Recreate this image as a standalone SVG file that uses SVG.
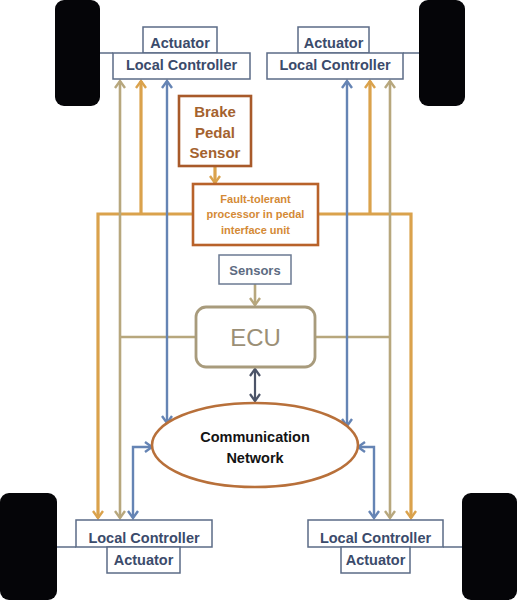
<svg xmlns="http://www.w3.org/2000/svg" width="517" height="600" viewBox="0 0 517 600">
<style>
.wheel{fill:#050508}
.box{fill:#fff;stroke:#5b6b86;stroke-width:1.5}
.lbl{font-family:"Liberation Sans",Arial,sans-serif;font-weight:bold;font-size:14.5px;fill:#3b4b6b;text-anchor:middle}
.axle{stroke:#5b6b86;stroke-width:1.5;fill:none}
.or{stroke:#daa24c;stroke-width:3.2;fill:none}
.kh{stroke:#b7a77d;stroke-width:2.6;fill:none}
.bl{stroke:#6584b4;stroke-width:2.4;fill:none}
.dk{stroke:#4c5468;stroke-width:2.2;fill:none}
</style>
<defs>
<marker id="aO" viewBox="0 0 12 12" refX="10" refY="6" markerWidth="12" markerHeight="12" markerUnits="userSpaceOnUse" orient="auto-start-reverse"><path d="M3,1 L10,6 L3,11" fill="none" stroke="#daa24c" stroke-width="2.4"/></marker>
<marker id="aK" viewBox="0 0 12 12" refX="10" refY="6" markerWidth="12" markerHeight="12" markerUnits="userSpaceOnUse" orient="auto-start-reverse"><path d="M3,1 L10,6 L3,11" fill="none" stroke="#b7a77d" stroke-width="2.4"/></marker>
<marker id="aB" viewBox="0 0 12 12" refX="10" refY="6" markerWidth="12" markerHeight="12" markerUnits="userSpaceOnUse" orient="auto-start-reverse"><path d="M3,1 L10,6 L3,11" fill="none" stroke="#6584b4" stroke-width="2.4"/></marker>
<marker id="aD" viewBox="0 0 12 12" refX="10" refY="6" markerWidth="12" markerHeight="12" markerUnits="userSpaceOnUse" orient="auto-start-reverse"><path d="M3,1 L10,6 L3,11" fill="none" stroke="#4c5468" stroke-width="2.2"/></marker>
</defs>
<rect width="517" height="600" fill="#fff"/>

<g id="wheels">
<rect class="wheel" x="55" y="0" width="45" height="106" rx="9"/>
<rect class="wheel" x="419" y="0" width="46" height="106" rx="9"/>
<rect class="wheel" x="0" y="493" width="57" height="107" rx="9"/>
<rect class="wheel" x="462" y="493" width="55" height="107" rx="9"/>
</g>

<g id="connectors">
<path class="axle" d="M100,53 H113"/>
<path class="axle" d="M403,53 H419"/>
<path class="axle" d="M57,547 H76"/>
<path class="axle" d="M443,547 H462"/>
<path class="or" d="M193,214 H98 V518" marker-end="url(#aO)"/>
<path class="or" d="M141,214 V81" marker-end="url(#aO)"/>
<path class="or" d="M318,214 H411 V518" marker-end="url(#aO)"/>
<path class="or" d="M370,214 V81" marker-end="url(#aO)"/>
<path class="or" d="M215,166 V183" marker-end="url(#aO)"/>
<path class="kh" d="M120,81 V518" marker-start="url(#aK)" marker-end="url(#aK)"/>
<path class="kh" d="M196,337 H120"/>
<path class="kh" d="M390,81 V518" marker-start="url(#aK)" marker-end="url(#aK)"/>
<path class="kh" d="M315,337 H390"/>
<path class="kh" d="M255,284 V305" marker-end="url(#aK)"/>
<path class="bl" d="M167,81 V423" marker-start="url(#aB)" marker-end="url(#aB)"/>
<path class="bl" d="M347,81 V426" marker-start="url(#aB)" marker-end="url(#aB)"/>
<path class="bl" d="M133,518 V447 H152" marker-start="url(#aB)" marker-end="url(#aB)"/>
<path class="bl" d="M374,518 V447 H358" marker-start="url(#aB)" marker-end="url(#aB)"/>
<path class="dk" d="M255,369 V401" marker-start="url(#aD)" marker-end="url(#aD)"/>
</g>

<g id="lc-top-left">
<rect class="box" x="143" y="27" width="74" height="26"/>
<rect class="box" x="113" y="53" width="137" height="26"/>
<text class="lbl" x="180" y="48">Actuator</text>
<text class="lbl" x="181.5" y="70">Local Controller</text>
</g>

<g id="lc-top-right">
<rect class="box" x="298" y="27" width="71" height="26"/>
<rect class="box" x="267" y="53" width="136" height="26"/>
<text class="lbl" x="333.5" y="48">Actuator</text>
<text class="lbl" x="335" y="70">Local Controller</text>
</g>

<g id="lc-bottom-left">
<rect class="box" x="76" y="520" width="136" height="27"/>
<rect class="box" x="107" y="547" width="73" height="26"/>
<text class="lbl" x="144" y="543">Local Controller</text>
<text class="lbl" x="143.5" y="565">Actuator</text>
</g>

<g id="lc-bottom-right">
<rect class="box" x="308" y="520" width="135" height="27"/>
<rect class="box" x="341" y="547" width="69" height="26"/>
<text class="lbl" x="375.5" y="543">Local Controller</text>
<text class="lbl" x="375.5" y="565">Actuator</text>
</g>

<g id="brake-pedal-sensor">
<rect x="179" y="96" width="72" height="70" fill="#fff" stroke="#a85a2a" stroke-width="2.6"/>
<text font-family="Liberation Sans,Arial,sans-serif" font-weight="bold" font-size="15" fill="#a4622f" text-anchor="middle"><tspan x="215" y="117">Brake</tspan><tspan x="215" y="138">Pedal</tspan><tspan x="215" y="158">Sensor</tspan></text>
</g>

<g id="fault-tolerant-processor">
<rect x="193" y="184" width="125" height="61" fill="#fff" stroke="#b8622a" stroke-width="2.6"/>
<text font-family="Liberation Sans,Arial,sans-serif" font-weight="bold" font-size="11" fill="#d48a36" text-anchor="middle"><tspan x="255.5" y="203">Fault-tolerant</tspan><tspan x="255.5" y="218">processor in pedal</tspan><tspan x="255.5" y="234">interface unit</tspan></text>
</g>

<g id="sensors">
<rect x="219" y="255" width="72" height="29" fill="#fff" stroke="#6b7a92" stroke-width="1.5"/>
<text x="255" y="275" font-family="Liberation Sans,Arial,sans-serif" font-weight="bold" font-size="13" fill="#5d6b82" text-anchor="middle">Sensors</text>
</g>

<g id="ecu">
<rect x="196" y="307" width="119" height="60" rx="10" fill="#fff" stroke="#a89b7c" stroke-width="2.8"/>
<text x="255.5" y="346" font-family="Liberation Sans,Arial,sans-serif" font-size="24" fill="#9b8f76" text-anchor="middle">ECU</text>
</g>

<g id="communication-network">
<ellipse cx="255" cy="445" rx="103" ry="42" fill="#fff" stroke="#b8703a" stroke-width="2.6"/>
<text font-family="Liberation Sans,Arial,sans-serif" font-weight="bold" font-size="14.5" fill="#141414" text-anchor="middle"><tspan x="255" y="442">Communication</tspan><tspan x="255" y="463">Network</tspan></text>
</g>
</svg>
